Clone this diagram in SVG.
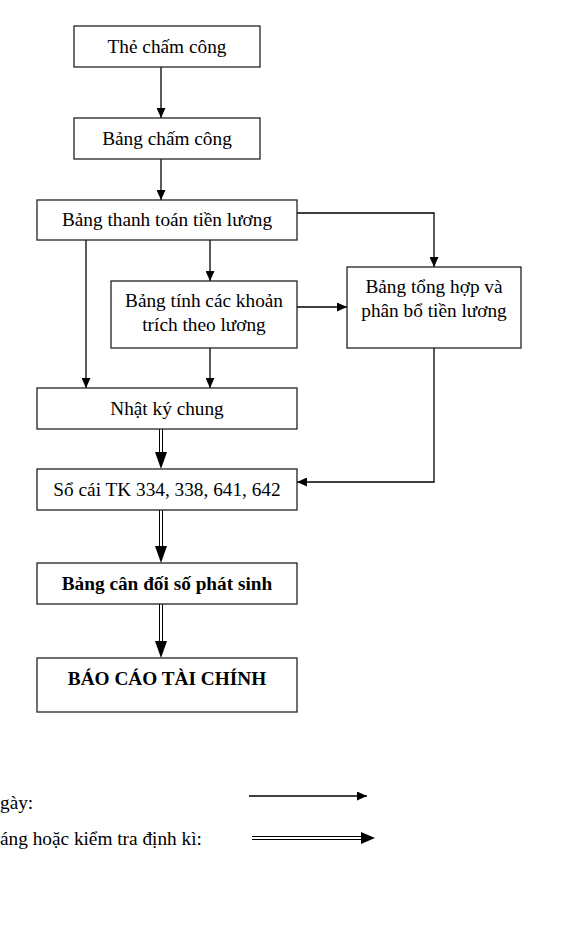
<svg xmlns="http://www.w3.org/2000/svg" width="567" height="950" viewBox="0 0 567 950">
<style>
.box{fill:#fff;stroke:#222;stroke-width:1.3}
.t{font-family:"Liberation Serif","Times New Roman",serif;font-size:19.3px;fill:#000;text-anchor:middle}
.b{font-weight:bold}
.ln{fill:none;stroke:#000;stroke-width:1.3}
.dl{fill:none;stroke:#000;stroke-width:1}
.lg{font-family:"Liberation Serif","Times New Roman",serif;font-size:19.3px;fill:#000}
</style>
<defs>
<marker id="ah" markerWidth="10" markerHeight="9" refX="10" refY="4.5" orient="auto" markerUnits="userSpaceOnUse">
<path d="M0,0 L10,4.5 L0,9 Z" fill="#000"/>
</marker>
</defs>
<rect width="567" height="950" fill="#fff"/>
<g id="connectors">
<line class="ln" x1="161" y1="67" x2="161" y2="118" marker-end="url(#ah)"/>
<line class="ln" x1="161" y1="159" x2="161" y2="200" marker-end="url(#ah)"/>
<polyline class="ln" points="297,213 434,213 434,267" marker-end="url(#ah)"/>
<line class="ln" x1="210" y1="240" x2="210" y2="281" marker-end="url(#ah)"/>
<line class="ln" x1="86" y1="240" x2="86" y2="388" marker-end="url(#ah)"/>
<line class="ln" x1="297" y1="307" x2="347" y2="307" marker-end="url(#ah)"/>
<line class="ln" x1="210" y1="348" x2="210" y2="388" marker-end="url(#ah)"/>
<polyline class="ln" points="434,348 434,482 297,482" marker-end="url(#ah)"/>
<g id="dbl1">
<line class="dl" x1="159.5" y1="429" x2="159.5" y2="453"/>
<line class="dl" x1="162.5" y1="429" x2="162.5" y2="453"/>
<path d="M155,452 L167,452 L161,469 Z" fill="#000"/>
</g>
<g id="dbl2">
<line class="dl" x1="159.5" y1="510" x2="159.5" y2="547"/>
<line class="dl" x1="162.5" y1="510" x2="162.5" y2="547"/>
<path d="M155,546 L167,546 L161,563 Z" fill="#000"/>
</g>
<g id="dbl3">
<line class="dl" x1="159.5" y1="604" x2="159.5" y2="642"/>
<line class="dl" x1="162.5" y1="604" x2="162.5" y2="642"/>
<path d="M155,641 L167,641 L161,658 Z" fill="#000"/>
</g>
</g>
<g id="n1"><rect class="box" x="74" y="26" width="186" height="41"/><text class="t" x="167" y="53">Thẻ chấm công</text></g>
<g id="n2"><rect class="box" x="74" y="118" width="186" height="41"/><text class="t" x="167" y="145">Bảng chấm công</text></g>
<g id="n3"><rect class="box" x="37" y="200" width="260" height="40"/><text class="t" x="167" y="226">Bảng thanh toán tiền lương</text></g>
<g id="n4"><rect class="box" x="111" y="281" width="186" height="67"/><text class="t" x="204" y="307">Bảng tính các khoản</text><text class="t" x="204" y="331">trích theo lương</text></g>
<g id="n5"><rect class="box" x="347" y="267" width="174" height="81"/><text class="t" x="434" y="293">Bảng tổng hợp và</text><text class="t" x="434" y="317">phân bổ tiền lương</text></g>
<g id="n6"><rect class="box" x="37" y="388" width="260" height="41"/><text class="t" x="167" y="415">Nhật ký chung</text></g>
<g id="n7"><rect class="box" x="37" y="469" width="260" height="41"/><text class="t" x="167" y="496">Sổ cái TK 334, 338, 641, 642</text></g>
<g id="n8"><rect class="box" x="37" y="563" width="260" height="41"/><text class="t b" x="167" y="590">Bảng cân đối số phát sinh</text></g>
<g id="n9"><rect class="box" x="37" y="658" width="260" height="54"/><text class="t b" x="167" y="685">BÁO CÁO TÀI CHÍNH</text></g>
<g id="legend">
<text class="lg" x="0" y="809">gày:</text>
<text class="lg" x="0" y="845">áng hoặc kiểm tra định kì:</text>
<line class="ln" x1="249" y1="796" x2="367" y2="796" marker-end="url(#ah)"/>
<line class="dl" x1="252" y1="836.5" x2="362" y2="836.5"/>
<line class="dl" x1="252" y1="839.5" x2="362" y2="839.5"/>
<path d="M361,832 L375,838 L361,844 Z" fill="#000"/>
</g>
</svg>
